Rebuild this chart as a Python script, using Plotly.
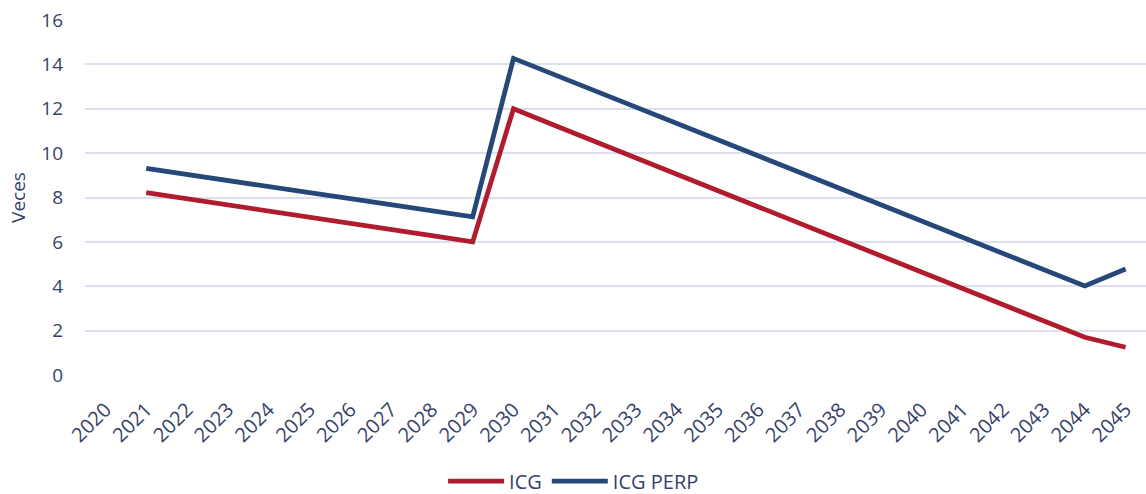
import plotly.graph_objects as go

years = [str(y) for y in range(2020, 2046)]
icg = [None, 8.22, 7.95, 7.67, 7.39, 7.11, 6.83, 6.56, 6.28, 6.00,
       12.00, 11.26, 10.52, 9.79, 9.05, 8.32, 7.58, 6.85, 6.11, 5.38,
       4.64, 3.90, 3.17, 2.43, 1.70, 1.25]
icg_perp = [None, 9.31, 9.05, 8.77, 8.50, 8.22, 7.95, 7.68, 7.40, 7.13,
            14.27, 13.54, 12.80, 12.07, 11.34, 10.60, 9.87, 9.14, 8.40, 7.67,
            6.94, 6.21, 5.47, 4.74, 4.01, 4.78]
y_ticks = [0, 2, 4, 6, 8, 10, 12, 14, 16]

RED = "#B01C2E"
BLUE = "#264878"
TXT = "#36426B"
GRID = "#DCDFEE"
FONT = "Open Sans"

fig = go.Figure()
fig.add_trace(go.Scatter(x=years, y=icg, name="ICG", mode="lines",
                         line=dict(color=RED, width=4.8)))
fig.add_trace(go.Scatter(x=years, y=icg_perp, name="ICG PERP", mode="lines",
                         line=dict(color=BLUE, width=4.8)))

fig.update_layout(
    width=1146, height=494,
    margin=dict(l=85, r=0, t=20, b=119),
    paper_bgcolor="white", plot_bgcolor="white",
    font=dict(family=FONT, color=TXT, size=19),
    showlegend=True,
    legend=dict(orientation="h", x=0.3375, xanchor="left",
                yref="container", y=0.026, yanchor="middle",
                font=dict(size=20, color=TXT), itemwidth=56,
                tracegroupgap=0),
    xaxis=dict(type="category", range=[-0.5, 25.5], tickangle=-45, automargin=False,
               showgrid=False, zeroline=False, showline=False, ticks="",
               tickfont=dict(size=20, color=TXT), ticklabelstandoff=18),
    yaxis=dict(range=[0, 16], tickvals=y_ticks, showgrid=True, gridcolor=GRID,
               gridwidth=1.8, zeroline=False, showline=False, ticks="", automargin=False,
               ticklabeloverflow="allow",
               tickfont=dict(size=19, color=TXT), ticklabelstandoff=21,
               title=dict(text="Veces", font=dict(size=19, color=TXT), standoff=10)),
)

fig.write_html("out.html", config={"displayModeBar": False},
               post_script="document.body.style.margin='0';")
